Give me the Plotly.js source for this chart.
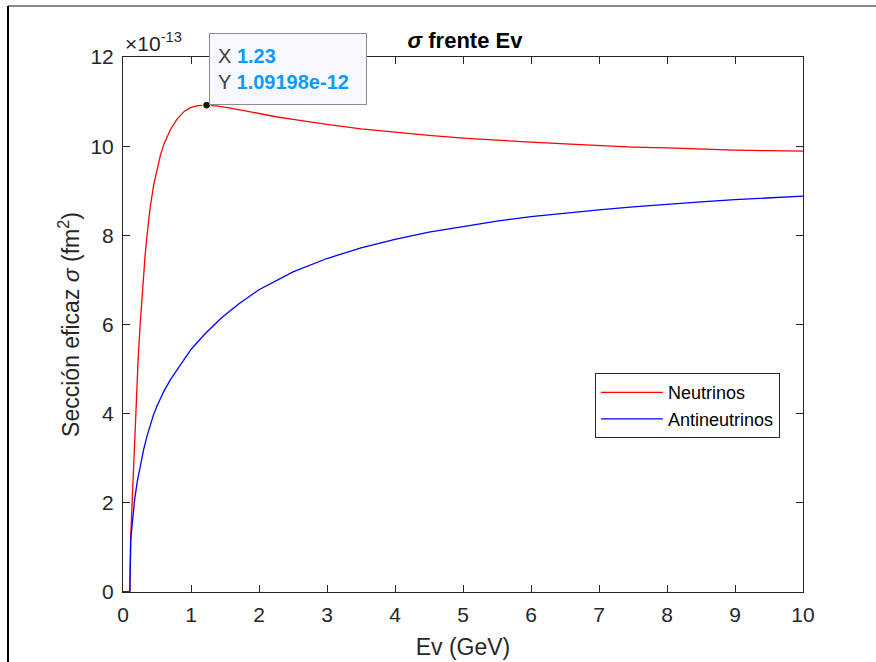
<!DOCTYPE html>
<html>
<head>
<meta charset="utf-8">
<script src="https://cdn.plot.ly/plotly-3.0.1.min.js"></script>
<style>html,body{margin:0;padding:0;background:#fff;}#chart{width:876px;height:662px;}</style>
</head>
<body>
<div id="chart"></div>
<script>
// Energies (GeV) and cross sections (units of 1e-13 fm^2)
const neutrinoX = [0, 0.1, 0.112, 0.13, 0.15, 0.175, 0.2, 0.225, 0.25, 0.275, 0.3, 0.325, 0.35, 0.375, 0.4, 0.45, 0.5, 0.55, 0.6, 0.65, 0.7, 0.8, 0.9, 1.0, 1.1, 1.23, 1.4, 1.6, 1.8, 2.0, 2.25, 2.5, 2.75, 3.0, 3.5, 4.0, 4.5, 5.0, 5.5, 6.0, 6.5, 7.0, 7.5, 8.0, 8.5, 9.0, 9.5, 10.0];
const neutrinoY = [0, 0, 1.2, 1.9, 2.7, 3.65, 4.5, 5.3, 5.95, 6.55, 7.08, 7.55, 7.95, 8.32, 8.63, 9.12, 9.5, 9.8, 10.04, 10.22, 10.38, 10.62, 10.78, 10.87, 10.91, 10.92, 10.9, 10.85, 10.79, 10.73, 10.66, 10.6, 10.54, 10.49, 10.39, 10.31, 10.24, 10.18, 10.13, 10.09, 10.05, 10.01, 9.98, 9.96, 9.93, 9.91, 9.9, 9.89];
const antiX = [0, 0.1, 0.115, 0.14, 0.17, 0.21, 0.25, 0.3, 0.35, 0.4, 0.45, 0.5, 0.6, 0.7, 0.85, 1.0, 1.2, 1.45, 1.7, 2.0, 2.5, 3.0, 3.5, 4.0, 4.5, 5.0, 5.5, 6.0, 6.5, 7.0, 7.5, 8.0, 8.5, 9.0, 9.5, 10.0];
const antiY = [0, 0, 1.2, 1.68, 2.06, 2.48, 2.82, 3.17, 3.48, 3.75, 3.98, 4.17, 4.5, 4.77, 5.12, 5.44, 5.78, 6.15, 6.46, 6.78, 7.18, 7.48, 7.72, 7.91, 8.07, 8.2, 8.32, 8.42, 8.5, 8.57, 8.64, 8.7, 8.75, 8.8, 8.84, 8.88];
const tipX = [1.23];
const tipY = [10.92];
const seriesNames = ['Neutrinos', 'Antineutrinos'];
const xTicks = [0,1,2,3,4,5,6,7,8,9,10];
const yTicks = [0,2,4,6,8,10,12];

const FONT = '"Liberation Sans", Arial, Helvetica, sans-serif';
const AX = '#262626';

const traces = [
  {x: neutrinoX, y: neutrinoY, name: seriesNames[0], mode: 'lines', line: {color: 'rgb(255,0,0)', width: 1.3}},
  {x: antiX, y: antiY, name: seriesNames[1], mode: 'lines', line: {color: 'rgb(0,0,255)', width: 1.3}},
  {x: tipX, y: tipY, mode: 'markers', showlegend: false, hoverinfo: 'skip',
   marker: {color: '#111', size: 8, line: {color: '#ffffc8', width: 1.2}}}
];

const axisCommon = {
  showline: true, linecolor: AX, linewidth: 1, mirror: 'ticks',
  ticks: 'inside', ticklen: 7, tickcolor: AX, tickwidth: 1,
  showgrid: false, zeroline: false, ticklabelstandoff: 4,
  tickfont: {family: FONT, size: 21, color: AX}
};

const layout = {
  width: 876, height: 662,
  margin: {l: 123, r: 73, t: 57, b: 70},
  paper_bgcolor: '#fff', plot_bgcolor: '#fff',
  font: {family: FONT, color: AX},
  title: {text: '<b><i>σ</i> frente Ev</b>', font: {family: FONT, size: 22, color: '#000'},
          xref: 'container', yref: 'container', x: 465/876, y: 1 - 40/662, xanchor: 'center', yanchor: 'middle'},
  xaxis: Object.assign({}, axisCommon, {
    range: [0, 10], tickvals: xTicks, ticktext: xTicks.map(String),
    title: {text: 'Ev (GeV)', font: {family: FONT, size: 23, color: AX}, standoff: 13}
  }),
  yaxis: Object.assign({}, axisCommon, {
    range: [0, 12], tickvals: yTicks, ticktext: yTicks.map(String),
    title: {text: 'Sección eficaz <i>σ</i> (fm<sup>2</sup>)', font: {family: FONT, size: 23, color: AX}, standoff: 4}
  }),
  showlegend: true,
  legend: {x: 0.694, y: 0.409, xanchor: 'left', yanchor: 'top',
           bgcolor: '#fff', bordercolor: AX, borderwidth: 1, itemwidth: 62,
           font: {family: FONT, size: 18, color: '#000'}, tracegroupgap: 0},
  annotations: [
    {xref: 'paper', yref: 'paper', x: 0, y: 1, xanchor: 'left', yanchor: 'bottom', yshift: 0,
     text: '×10<sup>-13</sup>', showarrow: false, font: {family: FONT, size: 21, color: AX}},
    {xref: 'x', yref: 'y', x: tipX[0], y: tipY[0], xanchor: 'left', yanchor: 'bottom', showarrow: false, xshift: 2,
     text: 'X <span style="color:#0a9bff"><b>1.23</b></span><br>Y <span style="color:#0a9bff"><b>1.09198e-12</b></span>',
     align: 'left', valign: 'middle', width: 140, height: 54, borderpad: 8,
     bgcolor: '#f8f8fe', bordercolor: '#8c8c8c', borderwidth: 1,
     font: {family: FONT, size: 20, color: '#404040'}}
  ],
  shapes: [
    {type: 'line', xref: 'paper', yref: 'paper', x0: (8-123)/680, x1: (876-123)/680, y0: (592-6)/535, y1: (592-6)/535,
     line: {color: '#888', width: 2}},
    {type: 'line', xref: 'paper', yref: 'paper', x0: (8-123)/680, x1: (8-123)/680, y0: (592-6)/535, y1: (592-662)/535,
     line: {color: '#000', width: 2}}
  ]
};

Plotly.newPlot('chart', traces, layout, {displayModeBar: false, staticPlot: true});
</script>
</body>
</html>
